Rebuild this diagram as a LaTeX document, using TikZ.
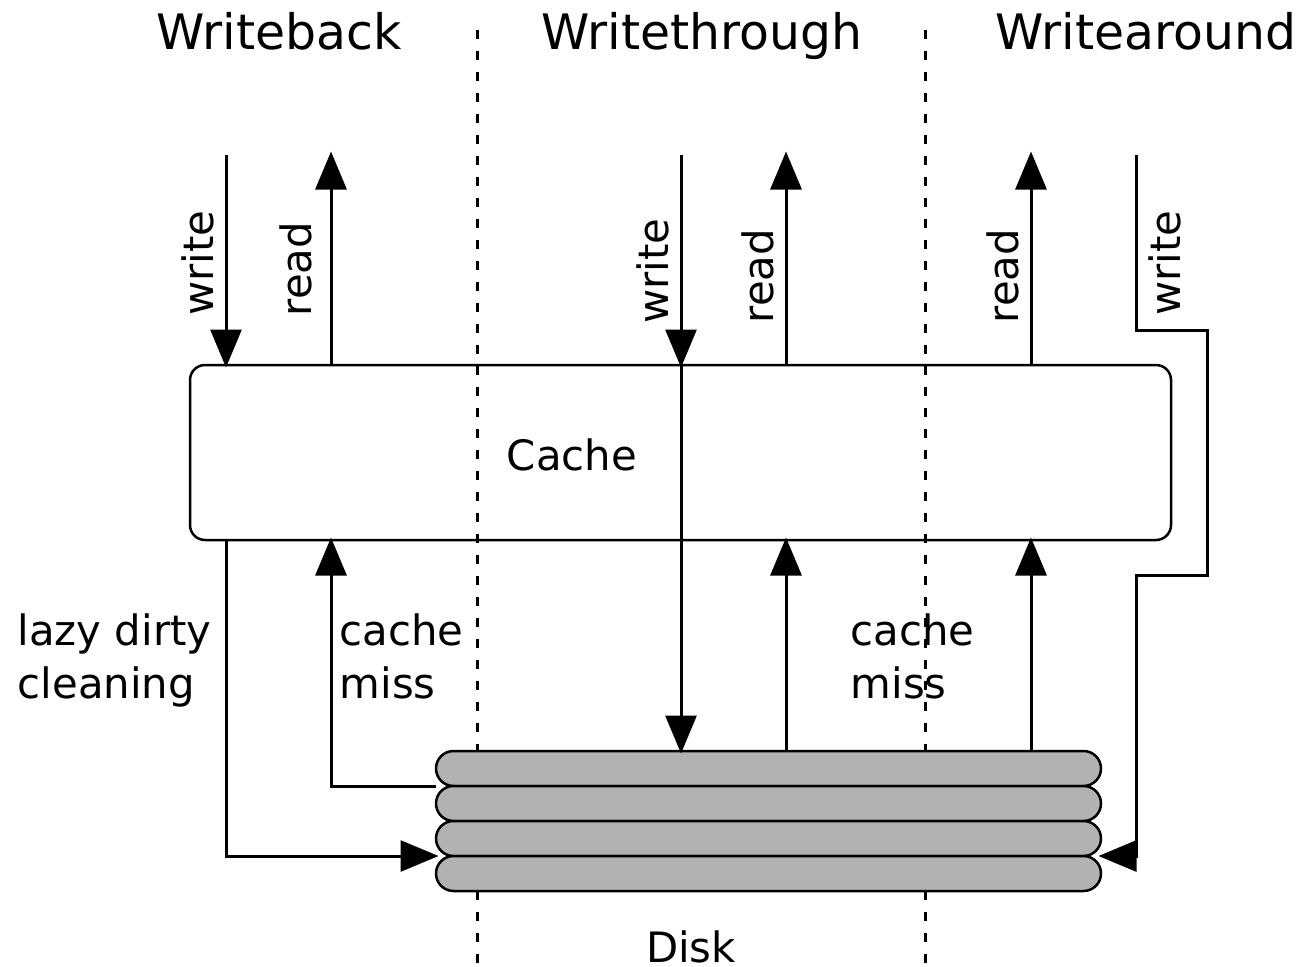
\documentclass[tikz,border=0pt]{standalone}
\usepackage{fontspec}
\setmainfont{DejaVu Sans}
\usetikzlibrary{arrows.meta}
\tikzset{
	flow/.style={line width=0.3mm, shorten >=-0.25mm, -{Triangle[length=3.8mm,width=3.1mm]}},
	border/.style={line width=0.25mm, dash pattern=on 0.95mm off 1.15mm},
	heading/.style={font=\fontsize{13.9}{16}\selectfont, anchor=base},
	label/.style={font=\fontsize{11.9}{15.1}\selectfont, inner sep=0pt},
	platter/.style={draw, line width=0.25mm, fill=black!30, rounded corners=1.75mm, minimum width=6.65cm, minimum height=0.35cm, outer sep=0pt}
}

\begin{document}
\begin{tikzpicture}
			%%%%% START %%%%%
			\useasboundingbox (0, 0) rectangle (13.02, 9.66);
			
			\draw[border] (4.775, 9.363) -- (4.775, 0);
			\draw[border] (9.255, 9.363) -- (9.255, 0);
			
			\node[heading] (wbtitle) at (2.79, 9.17) {Writeback};
			\node[heading] (wttitle) at (7.02, 9.17) {Writethrough};
			\node[heading] (watitle) at (11.46, 9.17) {Writearound};
			
			\node[draw, line width=0.25mm, rounded corners=1.5mm, minimum width=9.81cm, minimum height=1.75cm, outer sep=0pt] (cache) at (6.805, 5.135) {};
			\node[label] (cachetext) at (5.72, 5.11) {Cache};
			
			\node[platter] (disk1) at (7.685, 1.975) {};
			\node[platter] (disk2) at (7.685, 1.625) {};
			\node[platter] (disk3) at (7.685, 1.275) {};
			\node[platter] (disk4) at (7.685, 0.925) {};
			\node[label] (disktext) at (6.91, 0.19) {Disk};
			
			\coordinate (wbwrite) at (2.26, 8.11);
			\coordinate (wbread) at (3.31, 8.12);
			\coordinate (wtwrite) at (6.81, 8.11);
			\coordinate (wtread) at (7.86, 8.12);
			\coordinate (waread) at (10.31, 8.12);
			\coordinate (wawrite) at (11.36, 8.11);
			\coordinate (wabend1) at (11.36, 6.36);
			\coordinate (wabend2) at (12.07, 6.36);
			\coordinate (wabend3) at (12.07, 3.91);
			\coordinate (wabend4) at (11.36, 3.91);
			
			\draw[flow] (wbwrite) -- (wbwrite |- cache.north);
			\draw[flow] (wbread |- cache.north) -- (wbread);
			\draw[flow] (wtwrite) -- (wtwrite |- cache.north);
			\draw[flow] (wtread |- cache.north) -- (wtread);
			\draw[flow] (waread |- cache.north) -- (waread);
			
			\draw[flow] (disk1.south west) -| (wbread |- cache.south);
			\draw[flow] (wbwrite |- cache.south) |- (disk3.south west);
			\draw[flow] (wtwrite |- cache.north) -- (wtwrite |- disk1.north);
			\draw[flow] (wtread |- disk1.north) -- (wtread |- cache.south);
			\draw[flow] (waread |- disk1.north) -- (waread |- cache.south);
			\draw[flow] (wawrite) -- (wabend1) -- (wabend2) -- (wabend3) -- (wabend4) |- (disk3.south east);
			
			\node[label, rotate=90] (wbwritetext) at (1.98, 7.03) {write};
			\node[label, rotate=90] (wbreadtext) at (2.96, 6.97) {read};
			\node[label, rotate=90] (wtwritetext) at (6.53, 6.95) {write};
			\node[label, rotate=90] (wtreadtext) at (7.58, 6.90) {read};
			\node[label, rotate=90] (wareadtext) at (10.03, 6.90) {read};
			\node[label, rotate=90] (wawritetext) at (11.65, 7.03) {write};
			
			\node[label, align=left, anchor=west] (lazytext) at (0.17, 3.055) {lazy dirty\\cleaning};
			\node[label, align=left, anchor=west] (misstext1) at (3.39, 3.095) {cache\\miss};
			\node[label, align=left, anchor=west] (misstext2) at (8.50, 3.095) {cache\\miss};
			
			%%%%% END %%%%%
		\end{tikzpicture}
\end{document}
